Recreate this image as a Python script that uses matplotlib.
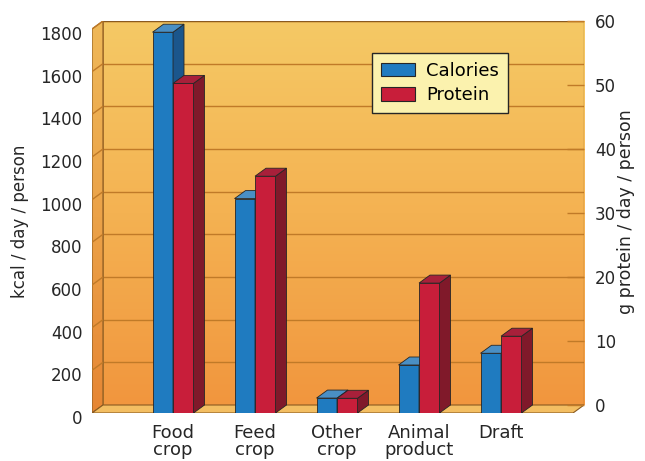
import matplotlib
matplotlib.use("Agg")
import matplotlib.pyplot as plt
import numpy as np
from matplotlib.patches import Polygon, Patch
from matplotlib.colors import LinearSegmentedColormap
from matplotlib.transforms import ScaledTranslation

plt.rcParams['font.family'] = ['DejaVu Sans']

# data
categories = ["Food\ncrop", "Feed\ncrop", "Other\ncrop", "Animal\nproduct", "Draft"]
calories = [1785, 1005, 70, 225, 280]        # kcal / day / person
protein = [51.5, 37.0, 2.3, 20.3, 12.0]      # g protein / day / person
kcal_ticks = [0, 200, 400, 600, 800, 1000, 1200, 1400, 1600, 1800]
prot_ticks = [0, 10, 20, 30, 40, 50, 60]

RATIO = 30.0          # 1800 kcal <-> 60 g
W = 0.25              # bar width
DX, DY = 0.134, 37.5  # 3D depth offset (x units, kcal units)
XL, XR = -0.988, 5.012
YTOP = 1800 + DY
TXT = "#262626"

fig = plt.figure(figsize=(6.45, 4.61), dpi=100)
ax = fig.add_axes([92/645, 1-413/461, (584-92)/645, (413-21)/461])
ax.set_xlim(XL, XR)
ax.set_ylim(0, YTOP)
for s in ax.spines.values():
    s.set_visible(False)

wall_cmap = LinearSegmentedColormap.from_list("wall", ["#F1963E", "#F4B252", "#F5C965"])
side_cmap = LinearSegmentedColormap.from_list("side", ["#E68634", "#EBA248", "#EFB858"])
grad = np.linspace(0, 1, 256).reshape(-1, 1)

# back wall
ax.imshow(grad, cmap=wall_cmap, origin="lower", aspect="auto",
          extent=[XL+DX, XR, DY, YTOP], zorder=0)
# left side wall
im = ax.imshow(grad, cmap=side_cmap, origin="lower", aspect="auto",
               extent=[XL, XL+DX, 0, YTOP], zorder=0.5)
side = Polygon([(XL, 0), (XL+DX, DY), (XL+DX, YTOP), (XL, 1800)], closed=True,
               fc="none", ec="#8A5A20", lw=0.8, zorder=1)
ax.add_patch(side)
im.set_clip_path(side)

# gridlines on back and side walls
grid_c = "#C07A28"
for t in kcal_ticks[1:]:
    ax.plot([XL+DX, XR], [t+DY, t+DY], color=grid_c, lw=1.0, zorder=1)
    ax.plot([XL, XL+DX], [t, t+DY], color=grid_c, lw=1.0, zorder=1)
ax.plot([XL+DX, XR, XR], [YTOP, YTOP, DY], color="#8A5A20", lw=0.9, zorder=1.2)
ax.plot([XL+DX, XL+DX], [DY, YTOP], color="#A06A28", lw=0.6, zorder=1.2)

# floor
ax.add_patch(Polygon([(XL, 0), (XR-DX, 0), (XR, DY), (XL+DX, DY)], closed=True,
                     fc="#F3BE62", ec="#8A5A20", lw=0.8, zorder=1.5))

# bars
x = np.arange(len(categories))
series = [
    (np.array(calories, float), -W, "#1F7BC0", "#1B568C", "#4A8FC4"),
    (np.array(protein, float) * RATIO, 0.0, "#C81E3A", "#80192A", "#A8203A"),
]
for i in x:
    for vals, off, front, sidec, topc in series:
        v = vals[i]
        x0 = i + off
        ax.bar(x0, v, width=W, align="edge", color=front, edgecolor=TXT,
               lw=0.6, zorder=3 + i*0.01)
        ax.add_patch(Polygon([(x0+W, 0), (x0+W+DX, DY), (x0+W+DX, v+DY), (x0+W, v)],
                             closed=True, fc=sidec, ec=TXT, lw=0.6, zorder=3 + i*0.01))
        ax.add_patch(Polygon([(x0, v), (x0+DX, v+DY), (x0+W+DX, v+DY), (x0+W, v)],
                             closed=True, fc=topc, ec=TXT, lw=0.6, zorder=3 + i*0.01))

# left axis
ax.set_yticks(kcal_ticks)
ax.tick_params(axis="y", length=0, pad=7, labelsize=12, labelcolor=TXT)
for lab in ax.get_yticklabels():
    lab.set_transform(lab.get_transform() + ScaledTranslation(0, -4/100, fig.dpi_scale_trans))
ax.set_xticks(x)
ax.set_xticklabels(categories, fontsize=13, linespacing=0.95, color=TXT)
ax.tick_params(axis="x", length=0, pad=8)
fig.text(20/645, 1-221/461, "kcal / day / person", rotation=90, ha="center", va="center",
         fontsize=12, color=TXT)

# right axis
ax2 = ax.twinx()
ax2.set_ylim(-DY/RATIO, (YTOP-DY)/RATIO)
for s in ax2.spines.values():
    s.set_visible(False)
ax2.set_yticks(prot_ticks)
ax2.tick_params(axis="y", direction="in", length=12, width=1.0, color=grid_c, pad=8,
                labelsize=12, labelcolor=TXT)
fig.text(626/645, 1-212/461, "g protein / day / person", rotation=90, ha="center", va="center",
         fontsize=12.5, color=TXT)

# legend
handles = [Patch(fc="#1F7BC0", ec=TXT, lw=0.8, label="Calories"),
           Patch(fc="#C81E3A", ec=TXT, lw=0.8, label="Protein")]
leg = fig.legend(handles=handles, loc="upper left", bbox_to_anchor=(372/645, 1-53/461),
                 bbox_transform=fig.transFigure, fontsize=13, frameon=True, fancybox=False,
                 facecolor="#FBF2AE", edgecolor=TXT, framealpha=1,
                 handlelength=1.9, handleheight=0.75, handletextpad=0.6,
                 borderpad=0.5, labelspacing=0.35, borderaxespad=0)
leg.get_frame().set_linewidth(1.0)
leg.set_zorder(10)

fig.savefig("out.png", dpi=100)
